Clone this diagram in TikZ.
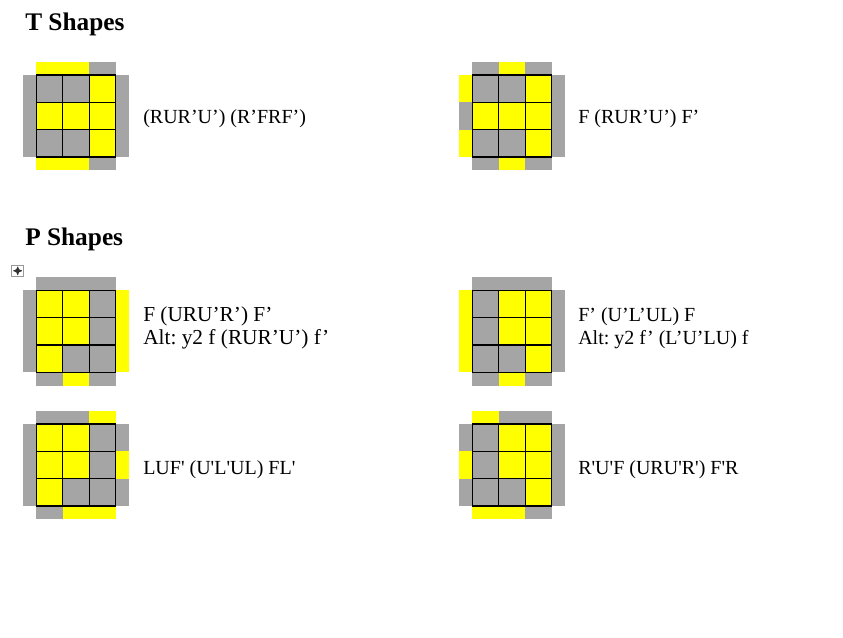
\documentclass[tikz,border=0pt]{standalone}
\usepackage{fontspec}
\usepackage{tikz}
\usetikzlibrary{arrows}

\newfontfamily\algfont{Liberation Serif}
\definecolor{yw}{HTML}{FFFF00}
\definecolor{gy}{HTML}{A5A5A5}
\frenchspacing

%% cell width, cell height, side sticker depth
\def\cw{26.5}
\def\ch{27.3}
\def\sw{13.5}

%% one last layer case: origin, top, left, right, bottom, face rows
\newcommand{\cubecase}[6]{%
  \begin{scope}[shift={#1}]
    \foreach \c [count=\i from 0] in {#2} \fill[fill=\c] (\i*\cw,-\sw) rectangle ++(\cw,\sw);
    \foreach \c [count=\i from 0] in {#3} \fill[fill=\c] (-\sw,\i*\ch) rectangle ++(\sw,\ch);
    \foreach \c [count=\i from 0] in {#4} \fill[fill=\c] (3*\cw,\i*\ch) rectangle ++(\sw,\ch);
    \foreach \c [count=\i from 0] in {#5} \fill[fill=\c] (\i*\cw,3*\ch) rectangle ++(\cw,\sw);
    \foreach \row [count=\j from 0] in {#6}
      \foreach \c [count=\i from 0] in \row \fill[fill=\c] (\i*\cw,\j*\ch) rectangle ++(\cw,\ch);
    \foreach \i in {0,...,3} {
      \draw[cubeline] (\i*\cw,0) -- (\i*\cw,3*\ch);
      \draw[cubeline] (0,\i*\ch) -- (3*\cw,\i*\ch);
    }
  \end{scope}}

\begin{document}
\begin{tikzpicture}[x=0.75pt,y=-0.75pt,
% Heading style
    heading/.style={font=\algfont\fontsize{19}{22}\selectfont\bfseries,
		anchor=base west,inner sep=0pt},
% Algorithm text style
    alg/.style={font=\algfont\fontsize{15}{17.25}\selectfont,align=left,
		inner sep=0pt},
% Grid line style
    cubeline/.style={line width=1pt,line cap=rect,black},
    >=stealth'
    ]
   \fill[white] (0,0) rectangle (843,637);
   \useasboundingbox (0,0) rectangle (843,637);
%% Headings
   \node (h1) [heading] at (25,30)  {T Shapes};
   \node (h2) [heading] at (25,245) {P Shapes};
%% T shapes
   \cubecase{(36.3,75)}{yw,yw,gy}{gy,gy,gy}{gy,gy,gy}{yw,yw,gy}
	{{gy,gy,yw},{yw,yw,yw},{gy,gy,yw}}
   \cubecase{(472.3,75)}{gy,yw,gy}{yw,gy,yw}{gy,gy,gy}{gy,yw,gy}
	{{gy,gy,yw},{yw,yw,yw},{gy,gy,yw}}
   \node (a1) [alg,anchor=base west] at (143,123) {(RUR’U’) (R’FRF’)};
   \node (a2) [alg,anchor=base west] at (578,123) {F (RUR’U’) F’};
%% Table handle
   \draw[gray!80,line width=0.6pt] (11.7,265) rectangle (23.7,276.7);
   \draw[<->,gray!40!black,line width=0.6pt] (17.7,266.5) -- (17.7,275.2);
   \draw[<->,gray!40!black,line width=0.6pt] (13.2,270.8) -- (22.2,270.8);
%% P shapes
   \cubecase{(36.3,290.3)}{gy,gy,gy}{gy,gy,gy}{yw,yw,yw}{gy,yw,gy}
	{{yw,yw,gy},{yw,yw,gy},{yw,gy,gy}}
   \cubecase{(472.3,290.3)}{gy,gy,gy}{yw,yw,yw}{gy,gy,gy}{gy,yw,gy}
	{{gy,yw,yw},{gy,yw,yw},{gy,gy,yw}}
   \cubecase{(36.3,424)}{gy,gy,yw}{gy,gy,gy}{gy,yw,gy}{gy,yw,yw}
	{{yw,yw,gy},{yw,yw,gy},{yw,gy,gy}}
   \cubecase{(472.3,424)}{yw,gy,gy}{gy,yw,gy}{gy,gy,gy}{yw,yw,gy}
	{{gy,yw,yw},{gy,yw,yw},{gy,gy,yw}}
   \node (a3) [alg,anchor=west,font=\algfont\fontsize{16}{17.25}\selectfont]
	at (143,328) {F (URU’R’) F’\\Alt: y2 f (RUR’U’) f’};
   \node (a4) [alg,anchor=west] at (578,328) {F’ (U’L’UL) F\\Alt: y2 f’ (L’U’LU) f};
   \node (a5) [alg,anchor=base west] at (143,474) {LUF' (U'L'UL) FL'};
   \node (a6) [alg,anchor=base west] at (578,474) {R'U'F (URU'R') F'R};
\end{tikzpicture}
\end{document}
